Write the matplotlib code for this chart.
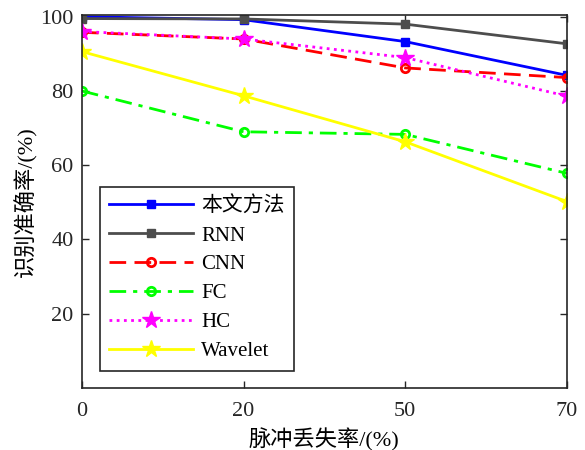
import matplotlib
matplotlib.use("Agg")
import matplotlib.pyplot as plt
import numpy as np

plt.rcParams['font.family'] = ['Liberation Serif', 'Noto Sans CJK SC']
plt.rcParams['mathtext.fontset'] = 'stix'

# drop rate categories (%)
x_labels = ['0', '20', '50', '70']

# recognition accuracy (%)
ours = [100.0, 99.2, 93.3, 84.2]
rnn = [99.5, 99.4, 98.0, 92.7]
cnn = [95.8, 94.0, 86.2, 83.6]
fc = [80.0, 69.0, 68.3, 57.8]
hc = [96.0, 94.0, 89.0, 78.6]
wavelet = [90.6, 78.7, 66.3, 50.2]

series_names = ['本文方法', 'RNN', 'CNN', 'FC', 'HC', 'Wavelet']

fig = plt.figure(figsize=(5.85, 4.5), dpi=100)
ax = fig.add_axes([0.140, 0.138, 0.829, 0.829])

x = np.arange(len(x_labels))
lw = 2.0

ax.plot(x, ours, color='#0000ff', lw=lw, ls='-', marker='s', ms=6,
        markerfacecolor='#0000ff', label=series_names[0])
ax.plot(x, rnn, color='#4d4d4d', lw=lw, ls='-', marker='s', ms=6,
        markerfacecolor='#4d4d4d', markeredgecolor='#4d4d4d', label=series_names[1])
ax.plot(x, cnn, color='#ff0000', lw=lw, ls=(0, (6, 3)), marker='o', ms=6,
        markerfacecolor='none', markeredgewidth=2, label=series_names[2])
ax.plot(x, fc, color='#00ff00', lw=lw, ls=(0, (6, 2.5, 1.5, 2.5)), marker='o', ms=6,
        markerfacecolor='none', markeredgewidth=2, label=series_names[3])
ax.plot(x, hc, color='#ff00ff', lw=lw, ls=(0, (1, 1.6)), marker='*', ms=13,
        label=series_names[4])
ax.plot(x, wavelet, color='#ffff00', lw=lw, ls='-', marker='*', ms=13,
        label=series_names[5])

ax.set_xlim(0, 3)
ax.set_ylim(0, 100.5)
ax.set_xticks(x)
ax.set_xticklabels(x_labels)
ax.set_yticks([20, 40, 60, 80, 100])

ax.tick_params(direction='in', length=5, width=1, labelsize=16,
               top=True, right=True, colors='#262626')
ax.tick_params(axis='x', pad=10)
ax.tick_params(axis='y', pad=6)
for s in ax.spines.values():
    s.set_linewidth(1.2)
    s.set_color('#262626')

ax.set_xlabel('脉冲丢失率/(%)', fontsize=16, labelpad=5)
ax.set_ylabel('识别准确率/(%)', fontsize=16, labelpad=2)

leg = ax.legend(loc='lower left', bbox_to_anchor=(0.037, 0.046), borderaxespad=0,
                fontsize=15, handlelength=4.0, handletextpad=0.4, labelspacing=0.45,
                borderpad=0.45, fancybox=False, framealpha=1, edgecolor='#262626')
leg.get_frame().set_linewidth(1.2)

fig.savefig('out.png', dpi=100)
